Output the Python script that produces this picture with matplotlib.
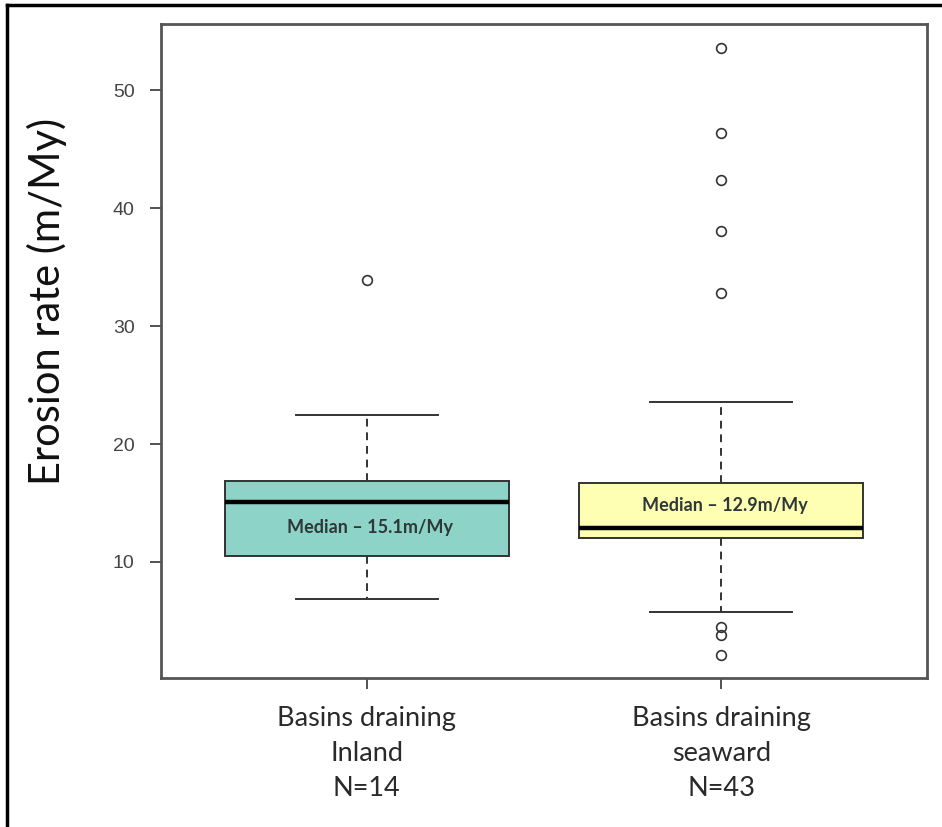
import matplotlib
matplotlib.use("Agg")
import matplotlib.pyplot as plt
from matplotlib.lines import Line2D

# five-number summaries per group (m/My)
groups = ["Basins draining\nInland\nN=14", "Basins draining\nseaward\nN=43"]
q1 = [10.5, 12.0]
medians = [15.1, 12.9]
q3 = [16.9, 16.7]
whisker_low = [6.9, 5.8]
whisker_high = [22.5, 23.6]
outliers = [
    [33.9],
    [53.6, 46.4, 42.4, 38.05, 32.8, 4.5, 3.8, 2.1],
]
median_labels = ["Median \u2013 15.1m/My", "Median \u2013 12.9m/My"]
box_colors = ["#8dd3c7", "#ffffb3"]
# vertical placement of the median annotations (data units)
label_y = [12.95, 14.75]

fig = plt.figure(figsize=(9.42, 8.27), dpi=100)
ax = fig.add_axes([0.1709, 0.1802, 0.8132, 0.7908])

stats = []
for i in range(len(groups)):
    stats.append({
        "med": medians[i], "q1": q1[i], "q3": q3[i],
        "whislo": whisker_low[i], "whishi": whisker_high[i],
        "fliers": outliers[i], "label": groups[i],
    })

edge = "#333333"
bp = ax.bxp(
    stats, positions=[1, 2], widths=0.8, patch_artist=True,
    boxprops=dict(edgecolor=edge, linewidth=1.4),
    medianprops=dict(color="black", linewidth=3.2),
    whiskerprops=dict(color=edge, linewidth=1.4, linestyle=(0, (4, 3))),
    capprops=dict(color=edge, linewidth=1.4),
    capwidths=0.4,
    flierprops=dict(marker="o", markerfacecolor="none", markeredgecolor=edge,
                    markersize=7, markeredgewidth=1.2),
)
for patch, c in zip(bp["boxes"], box_colors):
    patch.set_facecolor(c)

for i, txt in enumerate(median_labels):
    ax.text(i + 1.01, label_y[i], txt, ha="center", va="center",
            fontsize=13, family="Lato", fontweight="bold", color="#2e3838")

ax.set_xlim(0.42, 2.58)
ax.set_ylim(0.17, 55.6)
ax.set_yticks([10, 20, 30, 40, 50])
ax.tick_params(axis="y", length=8, width=1.3, colors="#444444",
               labelsize=14, pad=11)
ax.tick_params(axis="x", length=8, width=1.3, colors="#444444", pad=12)
for lab in ax.get_yticklabels():
    lab.set_family("Liberation Sans")
for lab in ax.get_xticklabels():
    lab.set_family("Lato")
    lab.set_fontsize(19.5)
    lab.set_color("#2a2a2a")
    lab.set_linespacing(1.5)

for s in ax.spines.values():
    s.set_color("#555555")
    s.set_linewidth(2)

ax.set_ylabel("Erosion rate (m/My)", fontsize=30, family="Lato",
              color="#111111")
ax.yaxis.set_label_coords(-0.123, 0.575)

# frame lines along the left and top of the figure
fig.add_artist(Line2D([7 / 942, 7 / 942], [0, 1 - 5 / 827],
                      transform=fig.transFigure, color="black", linewidth=2.5))
fig.add_artist(Line2D([7 / 942, 1], [1 - 5 / 827, 1 - 5 / 827],
                      transform=fig.transFigure, color="black", linewidth=2.5))

fig.savefig("out.png", dpi=100)
